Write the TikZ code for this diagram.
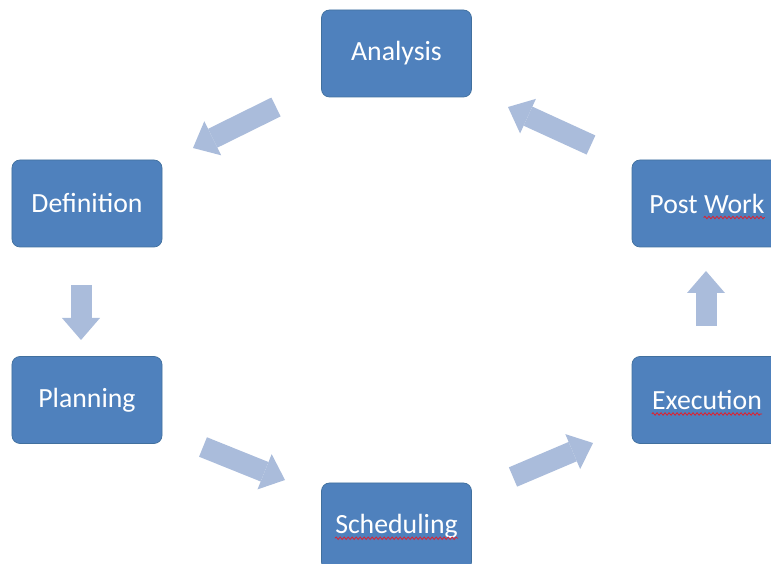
\documentclass[tikz,border=0pt]{standalone}
\usepackage{fontspec}
\setmainfont{Carlito}
\usepackage{tikz}
\usetikzlibrary{arrows.meta,decorations.pathmorphing}
\definecolor{boxblue}{HTML}{4F81BD}
\definecolor{boxedge}{HTML}{41709E}
\definecolor{arrowblue}{HTML}{AABCDB}
\definecolor{spellred}{HTML}{E0202E}
\tikzset{
  stagebox/.style={draw=boxedge, fill=boxblue, rounded corners=1.6mm, thin,
    minimum width=30mm, minimum height=17.4mm, align=center, text=white,
    font=\fontsize{15.8}{19}\selectfont},
  blockarrow/.style={draw=arrowblue, line width=4.2mm,
    -{Triangle[length=4.4mm, width=7.6mm, line width=0pt]}},
  squiggle/.style={draw=spellred, line width=0.45pt, rounded corners=0pt, decorate,
    decoration={snake, amplitude=0.25mm, segment length=0.8mm}}
}
% wavy spell-check mark under a word
\newcommand{\wavy}[1]{\tikz[baseline=(w.base), x=1cm, y=1cm]{%
  \node[inner sep=0pt, draw=none, fill=none, minimum width=0pt, minimum height=0pt,
    text=white, anchor=center] (w) {#1};
  \draw[squiggle, overlay] ([yshift=-0.9mm]w.base west) -- ([yshift=-0.9mm]w.base east);}}

\begin{document}
\begin{tikzpicture}[x=0.2mm, y=-0.2mm]
    \useasboundingbox (0,0) rectangle (771,564);

    \node[stagebox] (analysis) at (396.5,53.5) {Analysis};
    \node[stagebox] (definition) at (87,203.5) {Definition};
    \node[stagebox] (planning) at (87,400) {Planning};
    \node[stagebox] (scheduling) at (396.5,526.5) {\wavy{Scheduling}};
    \node[stagebox] (execution) at (707,400) {\wavy{Execution}};
    \node[stagebox] (postwork) at (707,203.5) {Post \wavy{Work}};

    % block arrows between the stages
    \coordinate (a1s) at (276,107);  \coordinate (a1e) at (193,148);
    \coordinate (a2s) at (81,285);   \coordinate (a2e) at (81,340);
    \coordinate (a3s) at (203,447);  \coordinate (a3e) at (285,480);
    \coordinate (a4s) at (513,477);  \coordinate (a4e) at (593,443);
    \coordinate (a5s) at (706,326);  \coordinate (a5e) at (706,271);
    \coordinate (a6s) at (591,145);  \coordinate (a6e) at (508,107);

    \foreach \i in {1,...,6}
        \draw[blockarrow] (a\i s) -- (a\i e);
\end{tikzpicture}
\end{document}
